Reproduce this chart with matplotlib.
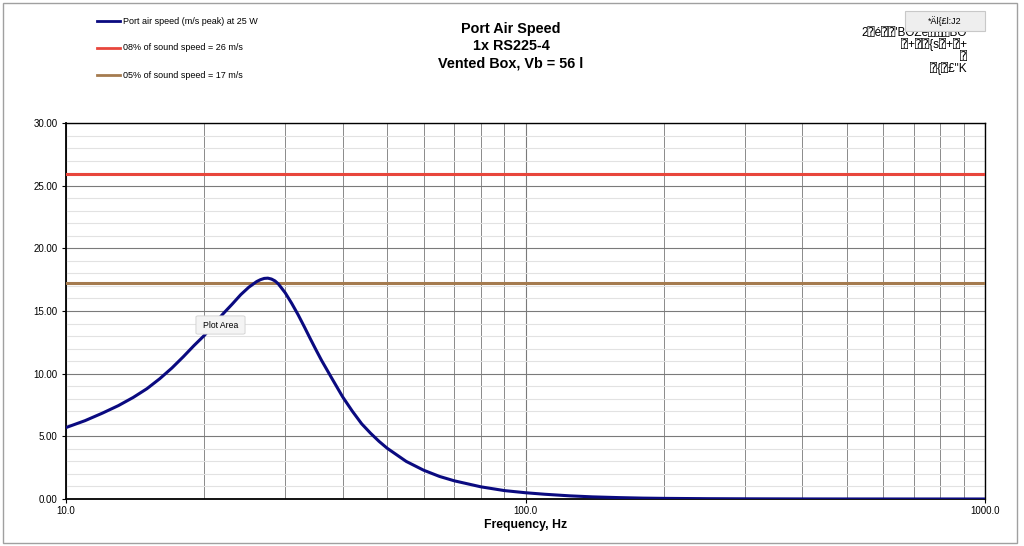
import matplotlib
matplotlib.use("Agg")
import matplotlib.pyplot as plt
from matplotlib.patches import Rectangle, FancyBboxPatch
from matplotlib.ticker import FixedLocator, NullFormatter, MultipleLocator

plt.rcParams['font.family'] = ['Liberation Sans', 'DejaVu Sans', 'DejaVu Sans Mono']

# ---- data ----
freq_hz = [10, 11, 12, 13, 14, 15, 16, 17, 18, 19, 20, 21, 22, 23, 24, 25, 26, 26.5, 27,
           27.5, 28, 28.5, 29, 30, 31, 32, 33, 34, 35, 36, 38, 40, 42, 44, 46, 48, 50, 55,
           60, 65, 70, 80, 90, 100, 110, 125, 140, 160, 180, 200, 250, 300, 400, 500, 700, 1000]
port_speed = [5.70, 6.25, 6.85, 7.45, 8.10, 8.80, 9.60, 10.45, 11.35, 12.25, 13.05, 13.95,
              14.80, 15.55, 16.30, 16.90, 17.35, 17.50, 17.60, 17.62, 17.55, 17.40, 17.15,
              16.45, 15.60, 14.70, 13.75, 12.80, 11.90, 11.05, 9.55, 8.15, 7.00, 6.00, 5.25,
              4.60, 4.05, 3.00, 2.30, 1.80, 1.45, 0.97, 0.67, 0.50, 0.38, 0.25, 0.17, 0.11,
              0.07, 0.05, 0.025, 0.015, 0.006, 0.003, 0.0012, 0.0005]
limit_8pct = 25.9
limit_5pct = 17.2
x_range = [10, 1000]

series_labels = ["Port air speed (m/s peak) at 25 W",
                 "08% of sound speed = 26 m/s",
                 "05% of sound speed = 17 m/s"]
title_lines = ["Port Air Speed", "1x RS225-4", "Vented Box, Vb = 56 l"]
x_label = "Frequency, Hz"
x_tick_vals = [10, 100, 1000]
x_tick_labels = ["10.0", "100.0", "1000.0"]
y_tick_vals = [0, 5, 10, 15, 20, 25, 30]
garbled_lines = ["2⍰é⍰⍰'BÔZe⍰⍰⍰BÔ", "⍰+⍰⍰{s⍰+⍰+", "⍰", "⍰{⍰£\"K"]
button_text = "*Äl{£l:J2"
tooltip_text = "Plot Area"

NAVY = "#0a0a80"
RED = "#e8463c"
BROWN = "#a57b4f"

W, H = 1024, 546
fig = plt.figure(figsize=(W / 100, H / 100), dpi=100)
fig.patch.set_facecolor("white")

# chart frame
fig.patches.append(Rectangle((3 / W, 1 - 543 / H), (1017 - 3) / W, (543 - 3) / H,
                             transform=fig.transFigure, fill=False,
                             edgecolor="#a0a0a0", linewidth=1.0))

def px(x, y):
    return x / W, 1 - y / H

l, b = 66 / W, 1 - 499 / H
ax = fig.add_axes([l, b, (985 - 66) / W, (499 - 123) / H])
ax.set_xscale("log")
ax.set_xlim(*x_range)
ax.set_ylim(0, 30)

minor_x = [m * d for d in (10, 100) for m in range(2, 10)]
ax.xaxis.set_major_locator(FixedLocator(x_tick_vals))
ax.xaxis.set_minor_locator(FixedLocator(minor_x))
ax.xaxis.set_minor_formatter(NullFormatter())
ax.set_xticklabels(x_tick_labels)
ax.yaxis.set_major_locator(FixedLocator(y_tick_vals))
ax.yaxis.set_minor_locator(MultipleLocator(1))
ax.set_yticklabels([f"{v:.2f}" for v in y_tick_vals])

ax.grid(which="major", axis="both", color="#7a7a7a", linewidth=0.8)
ax.grid(which="minor", axis="x", color="#8a8a8a", linewidth=0.7)
ax.grid(which="minor", axis="y", color="#e2e2e2", linewidth=0.8)
ax.set_axisbelow(True)

ax.tick_params(axis="both", which="major", labelsize=7, length=3, width=0.8, direction="out", pad=3)
ax.tick_params(axis="both", which="minor", length=0)
ax.tick_params(axis="x", which="major", pad=2)
for s in ax.spines.values():
    s.set_color("black")
    s.set_linewidth(1.0)
ax.spines["left"].set_linewidth(1.3)
ax.spines["bottom"].set_linewidth(1.3)

ax.axhline(limit_8pct, color=RED, linewidth=2.2, zorder=3)
ax.axhline(limit_5pct, color=BROWN, linewidth=2.2, zorder=3)
ax.plot(freq_hz, port_speed, color=NAVY, linewidth=2.2, zorder=4,
        solid_capstyle="round", solid_joinstyle="round")

ax.set_xlabel(x_label, fontsize=8.8, fontweight="bold", labelpad=2)

# title
for i, t in enumerate(title_lines):
    fig.text(*px(511, 29 + i * 17), t, ha="center", va="center", fontsize=10.4, fontweight="bold")

# legend (manual)
leg_colors = [NAVY, RED, BROWN]
for i, (lab, c) in enumerate(zip(series_labels, leg_colors)):
    y = 21 + i * 27
    fig.add_artist(plt.Line2D([97 / W, 120 / W], [1 - y / H, 1 - y / H],
                              transform=fig.transFigure, color=c, linewidth=2.0))
    fig.text(*px(123, y), lab, ha="left", va="center", fontsize=6.5)

# garbled text at top right
for y, t in zip([33, 45, 57, 69], garbled_lines):
    fig.text(*px(967, y), t, ha="right", va="center", fontsize=8.5)

# button-like box
bx = FancyBboxPatch(px(905, 31), 80 / W, 20 / H, boxstyle="square,pad=0",
                    transform=fig.transFigure, facecolor="#eeeeee", edgecolor="#c8c8c8",
                    linewidth=0.8, zorder=5)
fig.patches.append(bx)
fig.text(*px(945, 21), button_text, ha="center", va="center", fontsize=6.5, zorder=6)

# Plot Area tooltip
tp = FancyBboxPatch(px(198, 333), 45 / W, 16 / H, boxstyle="round,pad=0.002",
                    transform=fig.transFigure, facecolor="#f4f4f4", edgecolor="#d0d0d0",
                    linewidth=0.6, zorder=5)
fig.patches.append(tp)
fig.text(*px(220.5, 325), tooltip_text, ha="center", va="center", fontsize=6.2, zorder=6)

fig.savefig("out.png", dpi=100)
